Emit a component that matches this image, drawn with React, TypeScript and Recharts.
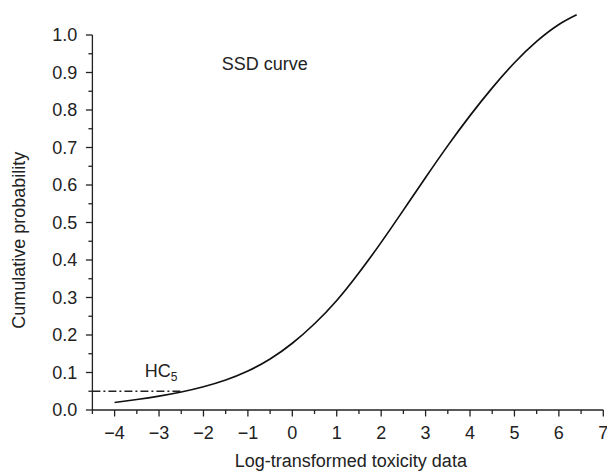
import React from 'react';
import { LineChart, Line, XAxis, YAxis, ReferenceLine, ReferenceDot } from 'recharts';

// SSD curve
const logTox = [-4, -3.5, -3, -2.5, -2, -1.5, -1, -0.5, 0, 0.5, 1, 1.5, 2, 2.5, 3, 3.5, 4, 4.5, 5, 5.5, 6, 6.4];
const cumProb = [0.02, 0.028, 0.037, 0.048, 0.062, 0.08, 0.104, 0.136, 0.178, 0.23, 0.292, 0.366, 0.447, 0.533, 0.62, 0.705, 0.785, 0.859, 0.926, 0.983, 1.028, 1.054];

const xTicks = [-4.5, -4, -3.5, -3, -2.5, -2, -1.5, -1, -0.5, 0, 0.5, 1, 1.5, 2, 2.5, 3, 3.5, 4, 4.5, 5, 5.5, 6, 6.5, 7];
const yTicks = [0, 0.05, 0.1, 0.15, 0.2, 0.25, 0.3, 0.35, 0.4, 0.45, 0.5, 0.55, 0.6, 0.65, 0.7, 0.75, 0.8, 0.85, 0.9, 0.95, 1.0];

const hc5 = 0.05;
const hc5X = -2.45;

const data = logTox.map((x, i) => ({ x, y: cumProb[i] }));

const FONT = '"Liberation Sans", Arial, Helvetica, sans-serif';
const INK = '#222';

const isWhole = (v: number, step: number) => Math.abs(v / step - Math.round(v / step)) < 1e-6;

const XTick = (props: any) => {
  const { x, y, payload } = props;
  const major = isWhole(payload.value, 1);
  return (
    <g>
      <line x1={x} x2={x} y1={y} y2={y + (major ? 6.5 : 4)} stroke={INK} strokeWidth={1.3} />
      {major && (
        <text x={x} y={y + 29} textAnchor="middle" fontSize={18} fontFamily={FONT} fill={INK}>
          {payload.value < 0 ? `\u2212${Math.abs(payload.value)}` : payload.value}
        </text>
      )}
    </g>
  );
};

const YTick = (props: any) => {
  const { x, y, payload } = props;
  const major = isWhole(payload.value, 0.1);
  return (
    <g>
      <line x1={x} x2={x - (major ? 6.5 : 4)} y1={y} y2={y} stroke={INK} strokeWidth={1.3} />
      {major && (
        <text x={x - 15} y={y} dy="0.36em" textAnchor="end" fontSize={18} fontFamily={FONT} fill={INK}>
          {payload.value.toFixed(1)}
        </text>
      )}
    </g>
  );
};

export default function App() {
  return (
    <div style={{ position: 'absolute', left: 0, top: 0, background: '#fff' }}>
      <LineChart width={607} height={476} data={data} margin={{ top: 12.5, right: 3.7, bottom: 0, left: 0 }}>
        <XAxis
          dataKey="x"
          type="number"
          domain={[-4.5, 7]}
          ticks={xTicks}
          interval={0}
          tickSize={0}
          tickMargin={0}
          tickLine={false}
          tick={<XTick />}
          height={66}
          axisLine={{ stroke: INK, strokeWidth: 1.3 }}
          label={{
            content: (p: any) => {
              const vb = p.viewBox;
              return (
                <text x={vb.x + vb.width / 2 + 3} y={vb.y + 57} textAnchor="middle" fontSize={18} fontFamily={FONT} fill={INK}>
                  Log-transformed toxicity data
                </text>
              );
            },
          }}
        />
        <YAxis
          type="number"
          domain={[0, 1.06]}
          ticks={yTicks}
          interval={0}
          tickSize={0}
          tickMargin={0}
          tickLine={false}
          tick={<YTick />}
          width={92.4}
          axisLine={false}
          allowDataOverflow
          label={{
            content: (p: any) => {
              const vb = p.viewBox;
              const cx = 19;
              const cy = vb.y + vb.height / 2 + 29;
              return (
                <text x={cx} y={cy} transform={`rotate(-90 ${cx} ${cy})`} textAnchor="middle" dy="0.36em" fontSize={18} fontFamily={FONT} fill={INK}>
                  Cumulative probability
                </text>
              );
            },
          }}
        />
        <ReferenceLine segment={[{ x: -4.5, y: 0 }, { x: -4.5, y: 1 }]} stroke={INK} strokeWidth={1.3} ifOverflow="visible" />
        <ReferenceLine
          segment={[{ x: -4.5, y: hc5 }, { x: hc5X, y: hc5 }]}
          stroke={INK}
          strokeWidth={1.3}
          strokeDasharray="8 3 2 3"
          ifOverflow="visible"
        />
        <ReferenceDot
          x={-3.32}
          y={0.088}
          r={0}
          ifOverflow="visible"
          label={{
            content: (p: any) => (
              <text x={p.viewBox.x} y={p.viewBox.y} fontSize={18} fontFamily={FONT} fill={INK}>
                HC<tspan fontSize={12} dy={4}>5</tspan>
              </text>
            ),
          }}
        />
        <ReferenceDot
          x={-1.59}
          y={0.907}
          r={0}
          ifOverflow="visible"
          label={{
            content: (p: any) => (
              <text x={p.viewBox.x} y={p.viewBox.y} fontSize={18} fontFamily={FONT} fill={INK}>
                SSD curve
              </text>
            ),
          }}
        />
        <Line
          type="natural"
          dataKey="y"
          stroke="#111"
          strokeWidth={1.7}
          dot={false}
          isAnimationActive={false}
        />
      </LineChart>
    </div>
  );
}
